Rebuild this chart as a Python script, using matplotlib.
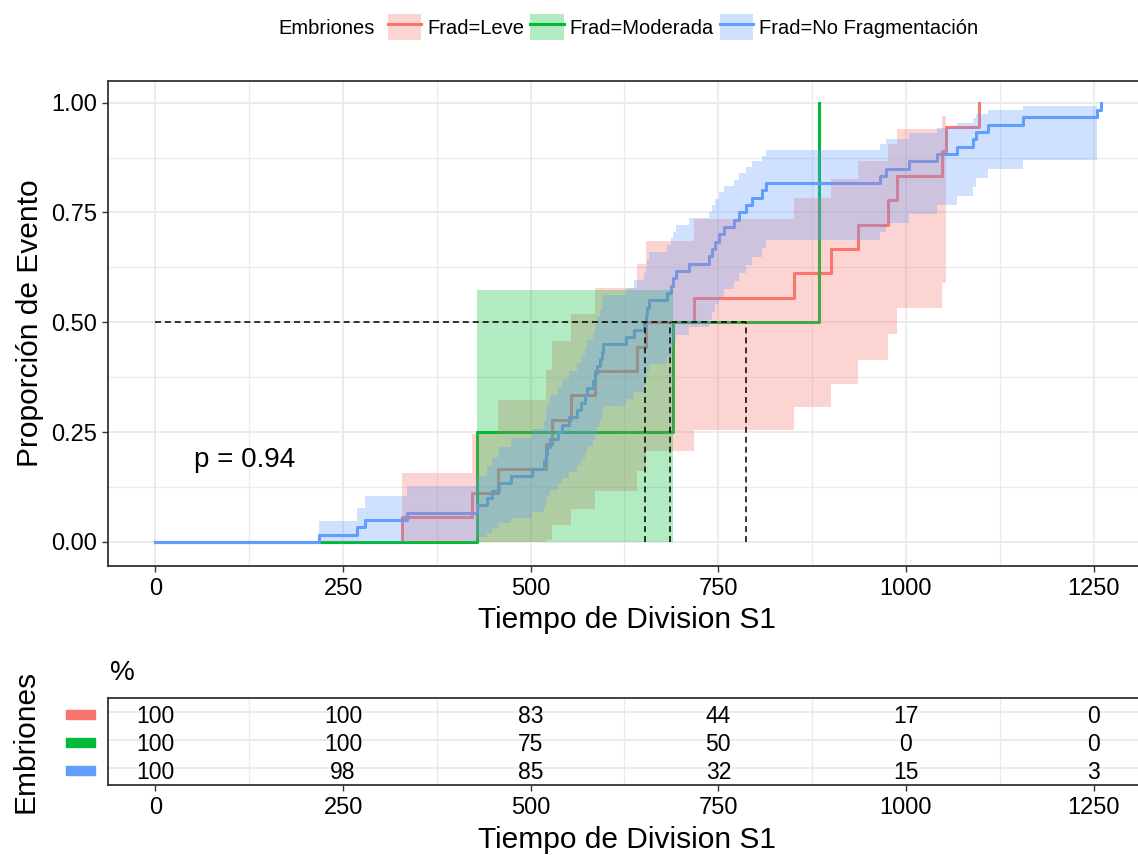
import numpy as np
import matplotlib
matplotlib.use("Agg")
import matplotlib.pyplot as plt
from matplotlib.patches import Patch, Rectangle
from matplotlib.lines import Line2D
from matplotlib import transforms

plt.rcParams['font.family'] = ['Liberation Sans', 'DejaVu Sans']

# division times per fragmentation group (every embryo divided, no censoring)
leve_t = [328, 422, 456, 521, 528, 554, 586, 642, 653, 718, 851, 900, 936,
          976, 988, 1048, 1053, 1097]
moderada_t = [429, 689, 884, 884]
nofrag_t = [218, 268, 279, 335, 429, 442, 449, 458, 474, 502, 518, 520, 522,
            526, 536, 542, 551, 562, 567, 573, 575, 583, 586, 589, 593, 595,
            597, 627, 638, 651, 653, 655, 658, 681, 687, 689, 693, 711, 738,
            742, 746, 751, 758, 771, 778, 787, 795, 808, 814, 965, 973, 1004,
            1041, 1068, 1090, 1094, 1110, 1156, 1255, 1260]

groups = ["Frad=Leve", "Frad=Moderada", "Frad=No Fragmentación"]
colors = ["#F8766D", "#00BA38", "#619CFF"]
data = [leve_t, moderada_t, nofrag_t]

table_times = [0, 250, 500, 750, 1000, 1250]
p_text = "p = 0.94"


def km(times):
    t = np.sort(np.asarray(times, float))
    n = len(t)
    ut, d = np.unique(t, return_counts=True)
    at_risk = n - np.concatenate([[0], np.cumsum(d)[:-1]])
    surv = np.cumprod(1 - d / at_risk)
    with np.errstate(divide='ignore', invalid='ignore'):
        se = np.sqrt(np.cumsum(d / (at_risk * (at_risk - d))))
        lo = surv * np.exp(-1.96 * se)
        hi = np.minimum(surv * np.exp(1.96 * se), 1.0)
    bad = surv <= 0
    lo[bad] = np.nan
    hi[bad] = np.nan
    return ut, surv, lo, hi


def median_time(ut, surv):
    for i, s in enumerate(surv):
        if abs(s - 0.5) < 1e-9 and i + 1 < len(ut):
            return (ut[i] + ut[i + 1]) / 2
        if s < 0.5:
            return ut[i]
    return np.nan


W, H = 1138, 855
fig = plt.figure(figsize=(W / 100, H / 100), dpi=100)
xl, xr = 108.2, 1148.3
ax = fig.add_axes([xl / W, 1 - 566 / H, (xr - xl) / W, (566 - 80.7) / H])
ax2 = fig.add_axes([xl / W, 1 - 785 / H, (xr - xl) / W, 87 / H])

fits = [km(t) for t in data]

# event curves
for (ut, surv, lo, hi), c in zip(fits, colors):
    x = np.concatenate([[0], ut])
    y = np.concatenate([[0], 1 - surv])
    ax.step(x, y, where='post', color=c, lw=2.2, zorder=2)

# confidence bands
for (ut, surv, lo, hi), c in zip(fits, colors):
    ok = ~np.isnan(lo)
    x = np.concatenate([[0], ut[ok]])
    y1 = np.concatenate([[0], 1 - hi[ok]])
    y2 = np.concatenate([[0], 1 - lo[ok]])
    ax.fill_between(x, y1, y2, step='post', color=c, alpha=0.3, lw=0, zorder=3)

# median lines
medians = [median_time(f[0], f[1]) for f in fits]
dash = dict(color='black', lw=1.1, dashes=(3.9, 2.6), zorder=4)
ax.plot([0, max(medians)], [0.5, 0.5], **dash)
for m in medians:
    ax.plot([m, m], [0, 0.5], **dash)

ax.text(52, 0.186, p_text, ha='left', va='center', fontsize=20)

ax.set_xlim(-63, 1323)
ax.set_ylim(-0.055, 1.05)
ax.set_xticks(table_times)
ax.set_xticks(np.arange(125, 1250, 250), minor=True)
ax.set_yticks([0, 0.25, 0.5, 0.75, 1.0])
ax.set_yticklabels(["0.00", "0.25", "0.50", "0.75", "1.00"])
ax.set_yticks(np.arange(0.125, 1.0, 0.25), minor=True)
ax.set_axisbelow(True)
ax.grid(which='major', color='#EBEBEB', lw=1.4)
ax.grid(which='minor', color='#EBEBEB', lw=1.0)
ax.tick_params(which='major', length=4.3, width=1, color='#333333',
               labelsize=17, pad=4)
ax.tick_params(which='minor', length=0)
for s in ax.spines.values():
    s.set_color('#333333')
    s.set_linewidth(1.3)

# risk table
n_rows = len(groups)
for r, t in enumerate(data):
    arr = np.asarray(t)
    for tt in table_times:
        pct = int(round(100 * np.sum(arr >= tt) / len(arr)))
        ax2.text(tt, r + 0.17, str(pct), ha='center', va='center', fontsize=16.5)

ax2.set_xlim(-63, 1323)
ax2.set_ylim(n_rows - 0.39, -0.5)
ax2.set_xticks(table_times)
ax2.set_xticks(np.arange(125, 1250, 250), minor=True)
ax2.set_yticks(range(n_rows))
ax2.set_yticklabels([])
ax2.set_axisbelow(True)
ax2.grid(axis='x', which='minor', color='#EBEBEB', lw=1.0)
ax2.grid(axis='y', which='major', color='#EBEBEB', lw=1.4)
ax2.tick_params(axis='x', which='major', length=4.3, width=1, color='#333333',
                labelsize=17, pad=4)
ax2.tick_params(axis='y', length=0)
ax2.tick_params(which='minor', length=0)
for s in ax2.spines.values():
    s.set_color('#333333')
    s.set_linewidth(1.3)

tr = transforms.blended_transform_factory(fig.transFigure, ax2.transData)
for r, c in enumerate(colors):
    ax2.add_patch(Rectangle((66 / W, r + 0.08 - 0.16), 29 / W, 0.32, color=c,
                            transform=tr, clip_on=False))

# titles and labels
fig.text(30 / W, 1 - 323 / H, "Proporción de Evento", rotation=90,
         ha='center', va='center', fontsize=21.5)
fig.text(627 / W, 1 - 620 / H, "Tiempo de Division S1", ha='center',
         va='center', fontsize=21.5)
fig.text(26 / W, 1 - 741 / H, "Embriones", rotation=90, ha='center',
         va='center', fontsize=21.5)
fig.text(110 / W, 1 - 673 / H, "%", ha='left', va='center', fontsize=20)
fig.text(627 / W, 1 - 840 / H, "Tiempo de Division S1", ha='center',
         va='center', fontsize=21.5)

# legend
fig.text(278 / W, 1 - 29 / H, "Embriones", ha='left', va='center', fontsize=14.5)
handles = [(Patch(fc=c, alpha=0.3, ec='none'), Line2D([], [], color=c, lw=2.2))
           for c in colors]
fig.legend(handles, groups, loc='center left', bbox_to_anchor=(388 / W, 1 - 27 / H),
           ncol=3, frameon=False, fontsize=14.5, handlelength=1.65,
           handleheight=1.65, handletextpad=0.3, columnspacing=0.3,
           borderaxespad=0, borderpad=0)

fig.savefig("out.png", dpi=100)
